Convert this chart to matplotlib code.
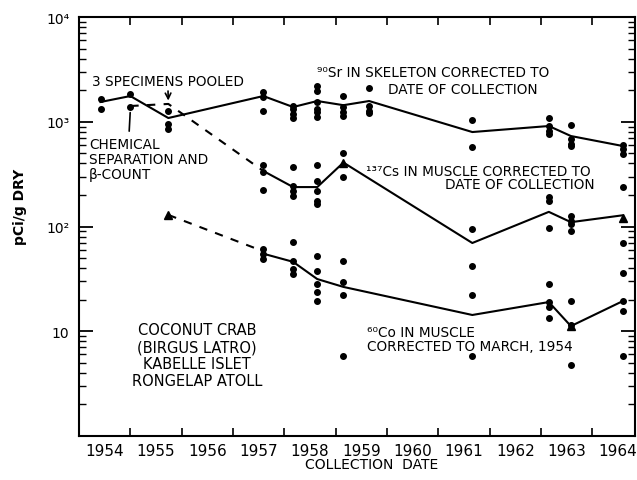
import numpy as np
import matplotlib
matplotlib.use("Agg")
import matplotlib.pyplot as plt
from matplotlib.ticker import FixedLocator, NullFormatter, LogLocator

# collection dates (decimal years)
dates = [1954.42, 1955.0, 1955.74, 1957.59, 1958.17, 1958.64, 1959.15, 1959.65,
         1961.66, 1963.15, 1963.58, 1964.59]

# 90Sr in skeleton: line values and individual specimens per date
sr_line = [1545, 1761, 1086, 1761, 1383, 1578, 1440, 1578, 798, 911, 731, 587]
sr_pts = [[1649, 1323], [1840, 1383], [1267, 952, 853], [1923, 1723, 1267],
          [1414, 1323, 1186, 1086], [2194, 1966, 1544, 1323, 1239, 1110],
          [1761, 1383, 1239, 1135], [2100, 1414, 1267, 1212], [1039, 574],
          [1086, 911, 816, 764], [931, 684, 613, 587], [600, 549, 492]]

# 137Cs in muscle
cs_dash_dates = [1955.0, 1955.74, 1957.59]
cs_dash = [1414, 1480, 339]
cs_dates = [1957.59, 1958.17, 1958.64, 1959.15, 1961.66, 1963.15, 1963.58, 1964.59]
cs_line = [339, 238, 238, 408, 69.6, 138, 110, 128]
cs_pts = [[387, 331, 223], [370, 244, 218, 196], [387, 272, 218, 175, 164],
          [503, 297], [94.6, 42], [191, 175, 96.8], [126, 114, 106, 90.6],
          [240, 69.6, 36]]
cs_tri_dates = [1959.15, 1964.59]
cs_tri = [408, 120]

# 60Co in muscle
co_dash_dates = [1955.74, 1957.59]
co_dash = [129, 58]
co_line = [55, 46, 31.5, 26.5, 14.3, 19.0, 11.2, 19.4]
co_pts = [[61, 54.6, 49], [71, 47, 39, 35], [52.3, 38, 28, 23.7, 19.4],
          [46.8, 29.5, 22.2, 5.8], [22.2, 5.8], [28.3, 19.0, 17.0, 13.4],
          [19.4, 11.5, 4.8], [19.4, 15.6, 5.8]]
co_tri_dates = [1955.74, 1963.58]
co_tri = [129, 11.2]

year_ticks = list(range(1955, 1965))
year_labels = [str(y) for y in range(1954, 1965)]

fig = plt.figure(figsize=(6.37, 4.81), dpi=100)
ax = fig.add_axes([0.124, 0.0915, 0.873, 0.871])

k = dict(color='black', lw=1.5)
ax.plot(dates, sr_line, **k)
ax.plot(cs_dash_dates, cs_dash, ls=(0, (4, 4)), **k)
ax.plot(cs_dates, cs_line, **k)
ax.plot(co_dash_dates, co_dash, ls=(0, (4, 4)), **k)
ax.plot(cs_dates, co_line, **k)

for d, vals in zip(dates, sr_pts):
    ax.plot([d] * len(vals), vals, 'o', color='black', ms=4)
for d, vals in zip(cs_dates, cs_pts):
    ax.plot([d] * len(vals), vals, 'o', color='black', ms=4)
for d, vals in zip(cs_dates, co_pts):
    ax.plot([d] * len(vals), vals, 'o', color='black', ms=4)
ax.plot(cs_tri_dates, cs_tri, '^', color='black', ms=6)
ax.plot(co_tri_dates, co_tri, '^', color='black', ms=6)

ax.set_yscale('log')
ax.set_ylim(1, 1e4)
ax.set_xlim(1954, 1964.83)

ax.xaxis.set_major_locator(FixedLocator(year_ticks))
ax.xaxis.set_major_formatter(NullFormatter())
ax.xaxis.set_minor_locator(FixedLocator([y + 0.5 for y in range(1954, 1965)]))
ax.set_xticklabels(year_labels, minor=True)
ax.tick_params(axis='x', which='major', direction='in', length=6, width=1.2,
               top=True, bottom=True)
ax.tick_params(axis='x', which='minor', length=0, labelsize=11, pad=5)

ax.yaxis.set_major_locator(FixedLocator([1, 10, 100, 1000, 10000]))
ax.set_yticklabels(['', '10', '10²', '10³', '10⁴'])
ax.yaxis.set_minor_locator(LogLocator(base=10, subs=np.arange(2, 10)))
ax.yaxis.set_minor_formatter(NullFormatter())
ax.tick_params(axis='y', which='major', direction='in', length=10, width=1.3,
               left=True, right=True, labelsize=10, pad=7)
ax.tick_params(axis='y', which='minor', direction='in', length=5, width=1,
               left=True, right=True)
for s in ax.spines.values():
    s.set_linewidth(1.5)

fig.text(20 / 637, 1 - 207 / 481, 'pCi/g DRY', rotation=90, ha='center',
         va='center', fontsize=10, fontweight='bold')
fig.text(372 / 637, 1 - 465 / 481, 'COLLECTION  DATE', ha='center',
         va='center', fontsize=10)

t = dict(transform=ax.transAxes, fontsize=9.8, va='center', ha='left')
ax.text(0.023, 0.847, '3 SPECIMENS POOLED', **t)
ax.text(0.018, 0.697, 'CHEMICAL', **t)
ax.text(0.018, 0.661, 'SEPARATION AND', **t)
ax.text(0.018, 0.625, 'β-COUNT', **t)
ax.text(0.428, 0.869, '⁹⁰Sr IN SKELETON CORRECTED TO', **t)
ax.text(0.556, 0.828, 'DATE OF COLLECTION', **t)
ax.text(0.516, 0.632, '¹³⁷Cs IN MUSCLE CORRECTED TO', **t)
ax.text(0.658, 0.601, 'DATE OF COLLECTION', **t)
ax.text(0.518, 0.248, '⁶⁰Co IN MUSCLE', **t)
ax.text(0.518, 0.215, 'CORRECTED TO MARCH, 1954', **t)

ax.text(0.212, 0.193, 'COCONUT CRAB\n(BIRGUS LATRO)\nKABELLE ISLET\nRONGELAP ATOLL',
        transform=ax.transAxes, ha='center', va='center', fontsize=10.5,
        linespacing=1.15)

ax.annotate('', xy=(1955.0, 1300), xycoords='data',
            xytext=(0.090, 0.721), textcoords='axes fraction',
            arrowprops=dict(arrowstyle='-', color='black', lw=1.2))
ax.annotate('', xy=(1955.74, 1500), xycoords='data',
            xytext=(0.160, 0.830), textcoords='axes fraction',
            arrowprops=dict(arrowstyle='->', color='black', lw=1.2))

fig.savefig('out.png', dpi=100)
